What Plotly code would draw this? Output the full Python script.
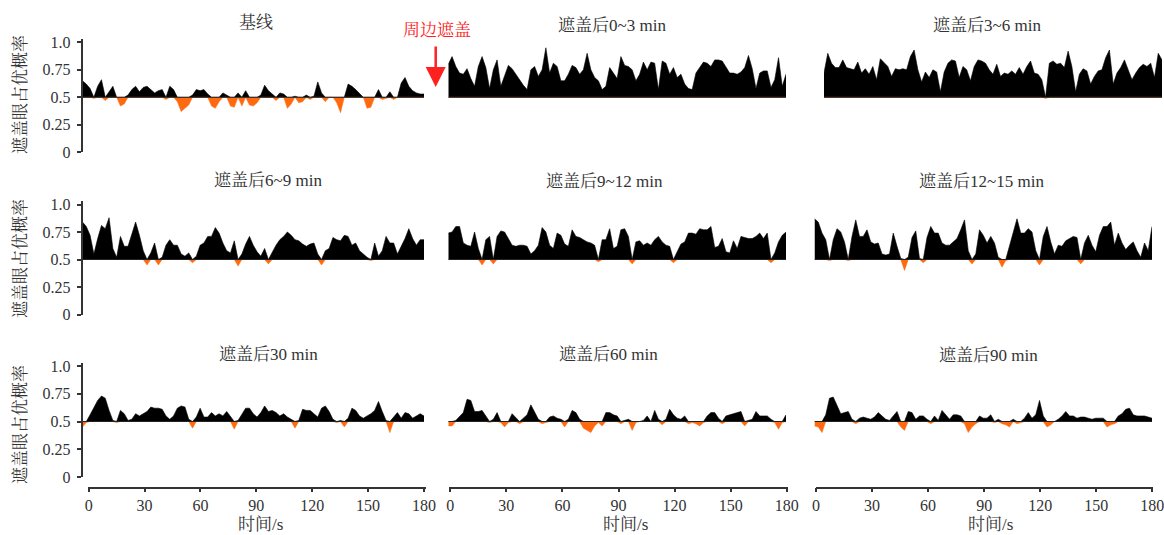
import plotly.graph_objects as go

W, H = 1164, 535

# ---------------- data (dominance probability of the covered eye, 2-s steps) ----------------
time_s = list(range(0, 181, 2))

baseline_vals = [0.65,0.62,0.58,0.49,0.6,0.66,0.47,0.55,0.6,0.5,
 0.42,0.44,0.52,0.57,0.6,0.55,0.59,0.6,0.57,0.54,
 0.56,0.57,0.48,0.6,0.57,0.46,0.37,0.4,0.43,0.52,
 0.57,0.56,0.57,0.53,0.42,0.4,0.46,0.54,0.52,0.42,
 0.41,0.54,0.42,0.56,0.43,0.42,0.45,0.52,0.61,0.56,
 0.53,0.47,0.54,0.53,0.4,0.44,0.51,0.45,0.46,0.52,
 0.48,0.51,0.64,0.54,0.46,0.5,0.5,0.45,0.36,0.5,
 0.62,0.6,0.57,0.53,0.5,0.4,0.41,0.5,0.57,0.48,
 0.49,0.55,0.48,0.5,0.63,0.68,0.6,0.56,0.54,0.53,
 0.53]

after_0_3 = [0.8,0.87,0.78,0.72,0.71,0.76,0.67,0.6,0.78,0.87,
 0.77,0.58,0.75,0.84,0.6,0.69,0.79,0.76,0.71,0.65,
 0.61,0.57,0.75,0.78,0.69,0.75,0.95,0.72,0.81,0.78,
 0.65,0.65,0.71,0.79,0.77,0.71,0.75,0.9,0.75,0.68,
 0.65,0.57,0.6,0.77,0.72,0.67,0.87,0.79,0.78,0.75,
 0.65,0.71,0.82,0.75,0.82,0.81,0.57,0.83,0.81,0.71,
 0.77,0.68,0.71,0.62,0.58,0.57,0.72,0.77,0.82,0.81,
 0.78,0.84,0.84,0.83,0.77,0.72,0.72,0.71,0.73,0.77,
 0.88,0.76,0.58,0.72,0.74,0.74,0.59,0.66,0.86,0.6,
 0.71]

after_3_6 = [0.72,0.9,0.81,0.77,0.77,0.84,0.77,0.76,0.75,0.82,
 0.72,0.76,0.71,0.78,0.66,0.85,0.81,0.78,0.69,0.76,
 0.75,0.76,0.75,0.87,0.93,0.75,0.64,0.73,0.68,0.75,
 0.73,0.55,0.73,0.81,0.84,0.83,0.68,0.78,0.75,0.65,
 0.78,0.84,0.83,0.81,0.75,0.71,0.8,0.69,0.72,0.71,
 0.74,0.71,0.77,0.71,0.78,0.83,0.72,0.71,0.66,0.49,
 0.81,0.83,0.8,0.81,0.77,0.92,0.78,0.55,0.71,0.76,
 0.74,0.62,0.69,0.74,0.75,0.86,0.93,0.62,0.72,0.77,
 0.84,0.74,0.66,0.72,0.77,0.8,0.78,0.81,0.68,0.9,
 0.84]

after_6_9 = [0.84,0.8,0.72,0.55,0.69,0.81,0.78,0.88,0.6,0.52,
 0.71,0.62,0.62,0.74,0.84,0.72,0.58,0.45,0.56,0.65,
 0.45,0.52,0.63,0.68,0.63,0.63,0.55,0.53,0.56,0.47,
 0.53,0.63,0.65,0.71,0.71,0.79,0.74,0.65,0.58,0.56,
 0.67,0.44,0.55,0.64,0.71,0.63,0.57,0.53,0.6,0.46,
 0.57,0.63,0.68,0.71,0.75,0.72,0.68,0.67,0.64,0.62,
 0.64,0.65,0.55,0.45,0.58,0.6,0.7,0.68,0.67,0.72,
 0.71,0.63,0.65,0.58,0.55,0.52,0.49,0.65,0.53,0.58,
 0.71,0.65,0.65,0.55,0.62,0.69,0.78,0.69,0.63,0.68,
 0.68]

after_9_12 = [0.74,0.75,0.8,0.8,0.65,0.63,0.62,0.75,0.6,0.45,
 0.68,0.71,0.46,0.71,0.76,0.75,0.69,0.63,0.62,0.63,
 0.63,0.62,0.55,0.58,0.63,0.79,0.75,0.63,0.6,0.74,
 0.72,0.64,0.62,0.77,0.71,0.7,0.68,0.66,0.65,0.63,
 0.48,0.68,0.68,0.78,0.6,0.62,0.77,0.78,0.71,0.46,
 0.66,0.67,0.63,0.65,0.63,0.68,0.71,0.66,0.63,0.62,
 0.47,0.57,0.64,0.66,0.74,0.74,0.73,0.78,0.77,0.77,
 0.8,0.61,0.62,0.69,0.57,0.56,0.67,0.6,0.71,0.7,
 0.69,0.69,0.71,0.74,0.69,0.74,0.47,0.56,0.66,0.72,
 0.75]

after_12_15 = [0.87,0.84,0.74,0.68,0.49,0.68,0.78,0.75,0.66,0.49,
 0.71,0.86,0.71,0.71,0.77,0.66,0.64,0.65,0.55,0.54,
 0.55,0.74,0.62,0.51,0.4,0.52,0.7,0.76,0.51,0.47,
 0.7,0.8,0.74,0.74,0.65,0.63,0.63,0.66,0.69,0.77,
 0.86,0.58,0.46,0.55,0.77,0.72,0.65,0.71,0.65,0.52,
 0.43,0.49,0.63,0.74,0.87,0.74,0.74,0.78,0.75,0.58,
 0.45,0.71,0.8,0.66,0.55,0.63,0.62,0.67,0.69,0.71,
 0.7,0.46,0.65,0.72,0.63,0.57,0.72,0.8,0.8,0.84,
 0.63,0.74,0.65,0.59,0.63,0.66,0.58,0.52,0.65,0.58,
 0.8]

after_30 = [0.45,0.49,0.56,0.63,0.69,0.73,0.71,0.6,0.51,0.49,
 0.6,0.57,0.51,0.52,0.57,0.55,0.57,0.59,0.63,0.62,
 0.62,0.61,0.55,0.52,0.55,0.62,0.64,0.63,0.52,0.44,
 0.54,0.62,0.54,0.54,0.58,0.55,0.57,0.55,0.59,0.55,
 0.43,0.51,0.56,0.62,0.62,0.57,0.54,0.58,0.64,0.59,
 0.6,0.58,0.55,0.57,0.54,0.52,0.44,0.51,0.61,0.6,
 0.6,0.57,0.54,0.62,0.64,0.59,0.52,0.49,0.51,0.45,
 0.53,0.62,0.6,0.55,0.53,0.55,0.57,0.6,0.68,0.59,
 0.51,0.4,0.54,0.58,0.53,0.58,0.57,0.53,0.55,0.57,
 0.55]

after_60 = [0.46,0.46,0.51,0.55,0.58,0.7,0.69,0.59,0.59,0.6,
 0.55,0.49,0.52,0.58,0.49,0.45,0.49,0.57,0.53,0.48,
 0.53,0.56,0.65,0.58,0.52,0.48,0.49,0.54,0.55,0.53,
 0.52,0.45,0.52,0.6,0.58,0.52,0.44,0.42,0.4,0.46,
 0.49,0.46,0.58,0.58,0.56,0.55,0.48,0.51,0.52,0.42,
 0.49,0.5,0.51,0.55,0.5,0.6,0.52,0.47,0.52,0.61,
 0.56,0.53,0.52,0.55,0.48,0.49,0.48,0.46,0.49,0.55,
 0.58,0.58,0.53,0.48,0.55,0.56,0.57,0.58,0.59,0.46,
 0.51,0.52,0.59,0.55,0.55,0.55,0.52,0.49,0.43,0.49,
 0.56]

after_90 = [0.46,0.45,0.4,0.56,0.71,0.72,0.65,0.57,0.58,0.59,
 0.52,0.48,0.53,0.54,0.53,0.52,0.54,0.58,0.55,0.52,
 0.51,0.55,0.59,0.45,0.42,0.59,0.58,0.52,0.55,0.55,
 0.52,0.48,0.55,0.51,0.6,0.56,0.52,0.56,0.56,0.55,
 0.48,0.4,0.45,0.48,0.55,0.53,0.53,0.56,0.49,0.52,
 0.48,0.47,0.45,0.52,0.48,0.49,0.53,0.58,0.53,0.56,
 0.69,0.55,0.45,0.47,0.5,0.52,0.55,0.59,0.55,0.55,
 0.53,0.54,0.54,0.53,0.52,0.53,0.53,0.53,0.45,0.47,
 0.48,0.55,0.57,0.61,0.62,0.56,0.55,0.55,0.55,0.54,
 0.53]

panel_titles = ["基线", "遮盖后0~3 min", "遮盖后3~6 min",
                "遮盖后6~9 min", "遮盖后9~12 min", "遮盖后12~15 min",
                "遮盖后30 min", "遮盖后60 min", "遮盖后90 min"]
panel_series = [baseline_vals, after_0_3, after_3_6,
                after_6_9, after_9_12, after_12_15,
                after_30, after_60, after_90]

x_ticks = [0, 30, 60, 90, 120, 150, 180]
y_ticks = [0, 0.25, 0.5, 0.75, 1.0]
y_ticktext = ["0", "0.25", "0.5", "0.75", "1.0"]
threshold = 0.5
y_title = "遮盖眼占优概率"
x_title = "时间/s"
note_text = "周边遮盖"

# ---------------- styling / layout geometry (pixels of a 1164x535 canvas) ----------------
SERIF = "Liberation Serif, Noto Serif CJK SC, Noto Sans CJK SC, serif"
TXT = "#333333"
BLACK = "#000000"
ORANGE = "#ff6a10"

def fx(px):
    return px / W

def fy(px):
    return 1 - px / H

col_data = [(82.5, 424.0), (448.3, 786.0), (814.5, 1152.0)]
row1_col3 = (824.0, 1162.0)
row_zero = [152.3, 314.5, 477.0]
row_scale = [110.0, 110.0, 111.0]
Y_TOP = 1.03

fig = go.Figure()
layout = dict(
    width=W, height=H,
    margin=dict(l=0, r=0, t=0, b=0, pad=0, autoexpand=False),
    paper_bgcolor="white", plot_bgcolor="white", showlegend=False,
    font=dict(family=SERIF, color=TXT, size=16),
)
annotations = []

for i, vals in enumerate(panel_series):
    r, c = divmod(i, 3)
    n = i + 1
    xa = "x" if n == 1 else f"x{n}"
    ya = "y" if n == 1 else f"y{n}"
    xkey = "xaxis" if n == 1 else f"xaxis{n}"
    ykey = "yaxis" if n == 1 else f"yaxis{n}"
    x0, x1 = row1_col3 if (r == 0 and c == 2) else col_data[c]
    y0 = row_zero[r]
    y1 = y0 - row_scale[r] * Y_TOP

    base = [threshold] * len(time_s)
    pos = [max(v, threshold) for v in vals]
    neg = [min(v, threshold) for v in vals]

    common = dict(xaxis=xa, yaxis=ya, mode="lines", hoverinfo="skip")
    fig.add_trace(go.Scatter(x=time_s, y=base, line=dict(width=0, color=BLACK), **common))
    fig.add_trace(go.Scatter(x=time_s, y=pos, fill="tonexty", fillcolor=BLACK,
                             line=dict(width=0.6, color=BLACK), **common))
    fig.add_trace(go.Scatter(x=time_s, y=base, line=dict(width=0, color=ORANGE), **common))
    fig.add_trace(go.Scatter(x=time_s, y=neg, fill="tonexty", fillcolor=ORANGE,
                             line=dict(width=0.5, color=ORANGE), **common))
    fig.add_trace(go.Scatter(x=time_s, y=base, line=dict(width=1, color="#222222"), **common))

    layout[xkey] = dict(domain=[fx(x0), fx(x1)], range=[0, 180], visible=False,
                        anchor=ya, fixedrange=True)
    yax = dict(domain=[fy(y0), fy(y1)], range=[0, Y_TOP], anchor=xa,
               showgrid=False, zeroline=False, fixedrange=True)
    if c == 0:
        yax.update(showline=True, linecolor=TXT, linewidth=1.5, ticks="outside",
                   ticklen=4, tickwidth=1.5, tickcolor=TXT, tickvals=y_ticks,
                   ticktext=y_ticktext, ticklabelstandoff=3,
                   tickfont=dict(family=SERIF, size=16, color=TXT))
    else:
        yax.update(visible=False)
    layout[ykey] = yax

title_pos = [(256, 22.7), (612, 25.7), (986.7, 25.7),
             (268.3, 180.5), (604.3, 181), (981.7, 181),
             (268.3, 354.3), (608.3, 354.3), (988.3, 355.5)]
for t, (px, py) in zip(panel_titles, title_pos):
    annotations.append(dict(text=t, x=fx(px), y=fy(py), xref="paper", yref="paper",
                            xanchor="center", yanchor="middle", showarrow=False,
                            font=dict(family=SERIF, size=17, color=TXT)))

for py in [95, 259, 425]:
    annotations.append(dict(text=y_title, x=fx(20), y=fy(py), xref="paper", yref="paper",
                            xanchor="center", yanchor="middle", showarrow=False,
                            textangle=-90, font=dict(family=SERIF, size=17, color=TXT)))

tick_axes = [((87.7, 426.0), (-0.54, 181.07)),
             ((449.3, 787.7), (-0.54, 180.54)),
             ((815.7, 1152.7), (-0.16, 180.2))]
AX_Y = 486.5
for j, ((d0, d1), rng) in enumerate(tick_axes):
    n = 10 + j
    layout[f"xaxis{n}"] = dict(domain=[fx(d0), fx(d1)], range=list(rng), anchor=f"y{n}",
                               showline=True, linecolor=TXT, linewidth=1.5,
                               ticks="outside", ticklen=4, tickwidth=1.5, tickcolor=TXT,
                               tickvals=x_ticks, showgrid=False, zeroline=False,
                               tickfont=dict(family=SERIF, size=16, color=TXT),
                               ticklabeloverflow="allow",
                               fixedrange=True, automargin=False)
    layout[f"yaxis{n}"] = dict(domain=[fy(AX_Y), fy(AX_Y - 5)], range=[0, 1],
                               anchor=f"x{n}", visible=False, fixedrange=True)
    fig.add_trace(go.Scatter(x=[x_ticks[0], x_ticks[-1]], y=[None, None],
                             xaxis=f"x{n}", yaxis=f"y{n}", mode="lines",
                             hoverinfo="skip"))

for px in [260, 625, 990]:
    annotations.append(dict(text=x_title, x=fx(px), y=0, xref="paper", yref="paper",
                            xanchor="center", yanchor="bottom", showarrow=False,
                            borderpad=0,
                            font=dict(family=SERIF, size=17, color=TXT)))

annotations.append(dict(text=note_text, x=fx(436.5), y=fy(30.5), xref="paper", yref="paper",
                        xanchor="center", yanchor="middle", showarrow=False,
                        font=dict(family=SERIF, size=17, color="#ff2020")))
annotations.append(dict(text="", x=fx(435.7), y=fy(87), xref="paper", yref="paper",
                        showarrow=True, ax=0, ay=-42, arrowcolor="#ff2020",
                        arrowwidth=2.5, arrowhead=2, arrowsize=1.6, standoff=0))

layout["annotations"] = annotations
fig.update_layout(**layout)
fig.write_html("out.html",
               config={"displayModeBar": False},
               post_script="document.body.style.margin='0';document.body.style.overflow='hidden';")
